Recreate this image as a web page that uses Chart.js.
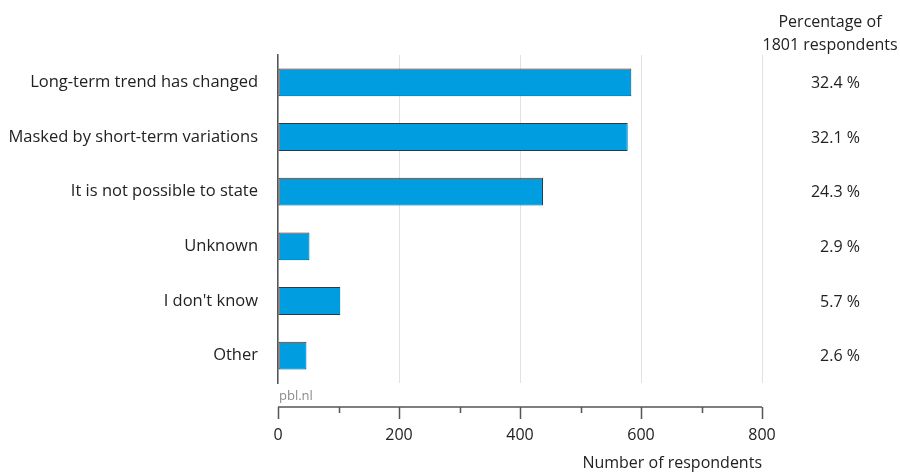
<!DOCTYPE html>
<html>
<head>
<meta charset="utf-8">
<script src="https://cdn.jsdelivr.net/npm/chart.js@4/dist/chart.umd.min.js"></script>
<style>
  html, body { margin: 0; padding: 0; background: #fff; }
  #wrap { width: 900px; height: 473px; position: relative; }
</style>
</head>
<body>
<div id="wrap"><canvas id="c" width="900" height="473"></canvas></div>
<script>
const categories = [
  "Long-term trend has changed",
  "Masked by short-term variations",
  "It is not possible to state",
  "Unknown",
  "I don't know",
  "Other"
];
const respondents = [584, 578, 438, 52, 103, 47];
const percentLabels = ["32.4 %", "32.1 %", "24.3 %", "2.9 %", "5.7 %", "2.6 %"];
const headerLines = ["Percentage of", "1801 respondents"];
const xTicks = [0, 200, 400, 600, 800];
const xMinorTicks = [100, 300, 500, 700];
const sourceLabel = "pbl.nl";
const xTitle = "Number of respondents";

const FONT = "'Open Sans', sans-serif";
const FS = 16;
const TEXT = "#222222";

const extras = {
  id: 'extras',
  afterDraw(chart) {
    const ctx = chart.ctx;
    const x = chart.scales.x, y = chart.scales.y;
    const area = chart.chartArea;
    ctx.save();
    const axisY = area.bottom + 24;
    ctx.strokeStyle = '#555555';
    ctx.lineWidth = 1.5;
    ctx.beginPath();
    ctx.moveTo(x.getPixelForValue(0), axisY);
    ctx.lineTo(x.getPixelForValue(800), axisY);
    xTicks.forEach(v => {
      const px = Math.round(x.getPixelForValue(v)) + 0.5;
      ctx.moveTo(px, axisY);
      ctx.lineTo(px, axisY + 12);
    });
    xMinorTicks.forEach(v => {
      const px = Math.round(x.getPixelForValue(v)) + 0.5;
      ctx.moveTo(px, axisY);
      ctx.lineTo(px, axisY + 6);
    });
    ctx.stroke();
    ctx.fillStyle = '#8c8c8c';
    ctx.font = "13px " + FONT;
    ctx.textAlign = 'left';
    ctx.textBaseline = 'middle';
    ctx.fillText(sourceLabel, x.getPixelForValue(0) + 1, area.bottom + 13);
    ctx.fillStyle = TEXT;
    ctx.font = FS + "px " + FONT;
    ctx.textAlign = 'center';
    ctx.fillText(headerLines[0], 830, 22);
    ctx.fillText(headerLines[1], 830, 45);
    ctx.textAlign = 'right';
    percentLabels.forEach((t, i) => {
      ctx.fillText(t, 860, y.getPixelForValue(i) + 1);
    });
    ctx.restore();
  }
};

new Chart(document.getElementById('c'), {
  type: 'bar',
  data: {
    labels: categories,
    datasets: [{
      data: respondents,
      backgroundColor: '#009ee0',
      borderColor: '#2b3a44',
      borderWidth: 1,
      borderSkipped: false,
      barPercentage: 0.51,
      categoryPercentage: 1
    }]
  },
  options: {
    indexAxis: 'y',
    responsive: false,
    animation: false,
    layout: { padding: { left: 0, right: 138, top: 55, bottom: 0 } },
    plugins: { legend: { display: false }, tooltip: { enabled: false } },
    scales: {
      x: {
        min: 0, max: 800,
        afterFit(s) { s.height = 90; },
        ticks: { stepSize: 200, padding: 43, color: TEXT, font: { family: FONT, size: FS } },
        grid: { color: '#e2e2e2', drawTicks: false, lineWidth: 1 },
        border: { display: false },
        title: { display: true, text: xTitle, align: 'end', color: TEXT,
                 font: { family: FONT, size: FS }, padding: { top: 0, bottom: 0 } }
      },
      y: {
        afterFit(s) { s.width = 278; },
        ticks: { padding: 20, color: TEXT, font: { family: FONT, size: 16.5 } },
        grid: { display: false, drawTicks: false },
        border: { display: true, color: '#555555', width: 1.5 }
      }
    }
  },
  plugins: [extras]
});
</script>
</body>
</html>
